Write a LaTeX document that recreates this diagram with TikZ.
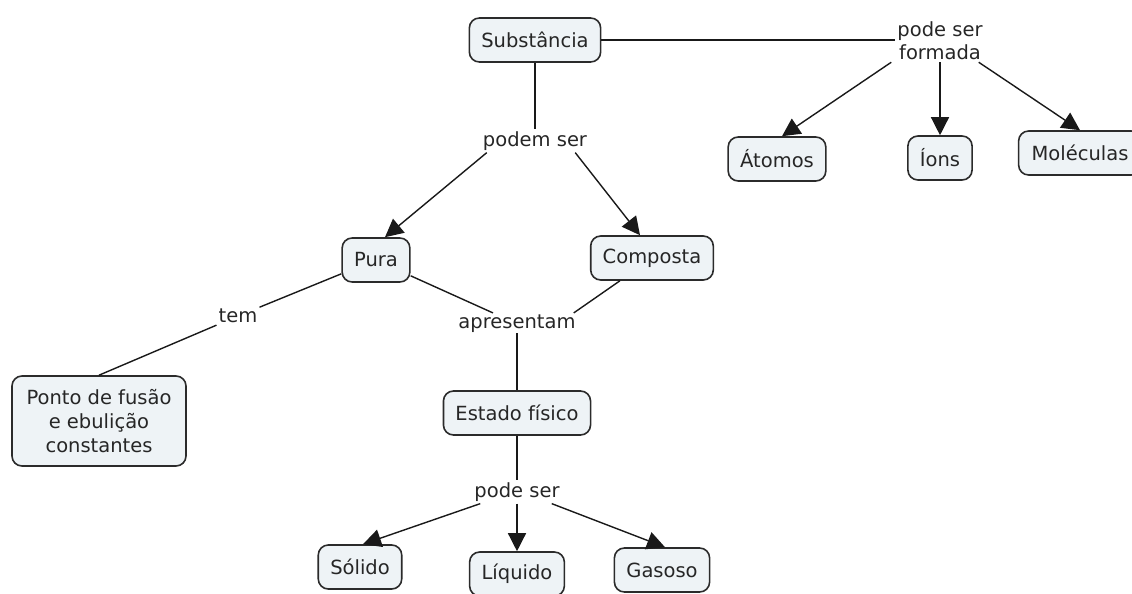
\documentclass[tikz,border=0pt]{standalone}
\usepackage{fontspec}
\setmainfont{DejaVu Sans}
\usetikzlibrary{arrows.meta}
\definecolor{conceptfill}{HTML}{EEF3F6}
\definecolor{conceptline}{HTML}{2B2B2B}
\tikzset{
  concept/.style={draw=conceptline, line width=1.6pt, fill=conceptfill,
    rounded corners=10pt, inner xsep=12pt, inner ysep=0pt,
    minimum height=44pt, font=\fontsize{19.5}{23}\selectfont, text=black!85},
  linklabel/.style={inner sep=2pt, font=\fontsize{19.5}{23}\selectfont, text=black!85},
  link/.style={draw=black!90, line width=1.4pt},
  linkarrow/.style={link, -{Triangle[length=18pt,width=18pt]}}
}
\begin{document}
\begin{tikzpicture}[x=1pt, y=-1pt]
\useasboundingbox (0,0) rectangle (1132,594);

% concepts
\node[concept] (sub) at (535,40) {Substância};
\node[concept] (ato) at (777,159) {Átomos};
\node[concept] (ion) at (940,158) {Íons};
\node[concept, inner xsep=13pt] (mol) at (1080,153) {Moléculas};
\node[concept] (pura) at (376,260) {Pura};
\node[concept] (comp) at (652,258) {Composta};
\node[concept, align=center, minimum height=90pt, minimum width=174pt,
      font=\fontsize{19.5}{24}\selectfont] (ponto) at (99,421)
      {Ponto de fusão\\e ebulição\\constantes};
\node[concept] (est) at (517,413) {Estado físico};
\node[concept] (sol) at (360,567) {Sólido};
\node[concept] (liq) at (517,574) {Líquido};
\node[concept] (gas) at (662,570) {Gasoso};

% linking phrases
\node[linklabel, align=center] (psf) at (940,41) {pode ser\\formada};
\node[linklabel] (podem) at (535,141) {podem ser};
\node[linklabel] (tem) at (238,316) {tem};
\node[linklabel] (apr) at (517,324) {apresentam};
\node[linklabel] (pode) at (517,492) {pode ser};

% connectors
\draw[link] (sub.east) -- (psf.west |- sub.east);
\draw[linkarrow] ([xshift=-4pt]psf.south west) -- ([xshift=5pt]ato.north);
\draw[linkarrow] (psf.south) -- (ion.north);
\draw[linkarrow] ([xshift=-6pt]psf.south east) -- (mol.north);

\draw[link] (sub.south) -- (podem.north);
\draw[linkarrow] ([xshift=6pt]podem.south west) -- ([xshift=9pt]pura.north);
\draw[linkarrow] ([xshift=-14pt]podem.south east) -- ([xshift=-12pt]comp.north);

\draw[link] ([yshift=9pt]pura.south west) -- (tem);
\draw[link] (tem) -- (ponto.north);

\draw[link] ([yshift=7pt]pura.south east) -- ([xshift=-24pt]apr.north);
\draw[link] ([xshift=30pt]comp.south west) -- ([xshift=-4pt]apr.north east);
\draw[link] ([yshift=2pt]apr.south) -- (est.north);

\draw[link] (est.south) -- (pode.north);
\draw[linkarrow] ([xshift=8pt]pode.south west) -- ([xshift=3pt]sol.north);
\draw[linkarrow] (pode.south) -- (liq.north);
\draw[linkarrow] ([xshift=-10pt]pode.south east) -- ([xshift=3pt]gas.north);
\end{tikzpicture}
\end{document}
